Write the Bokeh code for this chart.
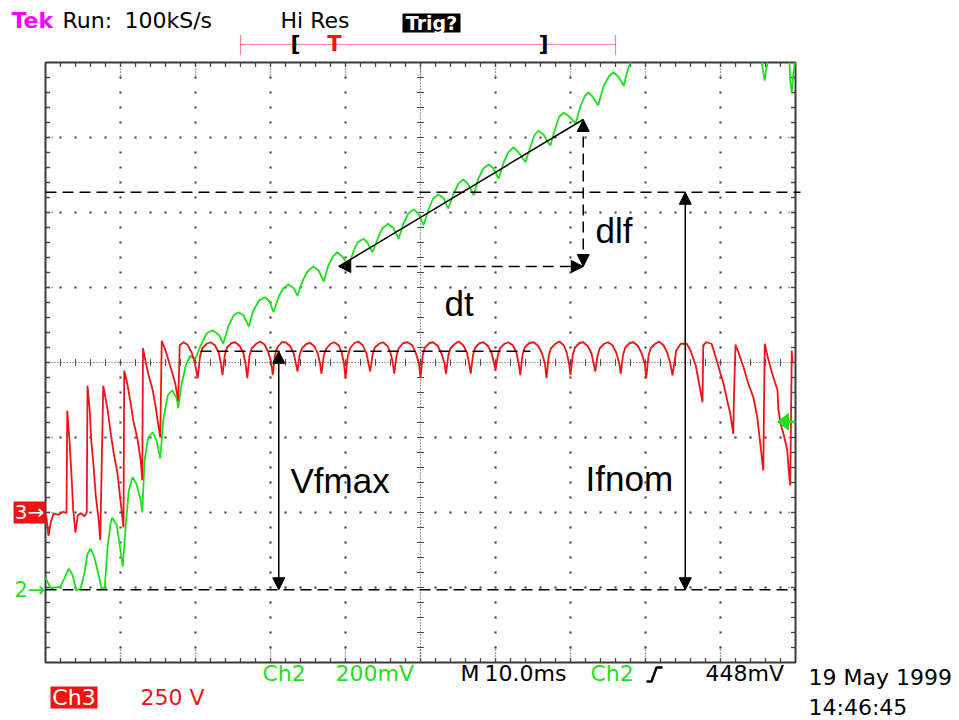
import numpy as np
from bokeh.plotting import figure
from bokeh.models import Range1d, Label, Arrow, NormalHead
from bokeh.embed import file_html
from bokeh.resources import INLINE

# ---------------- data (time in ms, amplitude in screen divisions, 0 = centre line) ----------------
# Ch2 (green): field current probe, 200 mV/div
ch2_t = [0.0, 0.3, 0.7, 1.3, 2.0, 2.5, 3.1, 3.6, 4.1, 4.7, 5.2, 5.6, 6.0, 6.5, 7.1, 7.5, 7.9, 8.3, 8.7, 8.9,
         9.5, 10.0, 10.3, 10.7, 11.1, 11.6, 12.1, 12.7, 12.9, 13.2, 13.7, 14.3, 14.8, 15.3, 15.7, 16.3, 16.9,
         17.5, 17.7, 18.1, 18.7, 19.3, 20.0, 20.7, 21.5, 22.3, 23.1, 23.7, 24.4, 25.1, 25.7, 26.4, 27.1, 27.7,
         28.5, 29.3, 29.9, 30.4, 31.1, 31.7, 32.4, 33.1, 33.6, 34.3, 34.9, 35.7, 36.4, 37.1, 37.7, 38.3, 38.9,
         39.6, 40.4, 41.1, 41.6, 42.4, 42.9, 43.6, 44.3, 44.9, 45.7, 46.4, 47.1, 47.7, 48.4, 49.1, 49.7, 50.4,
         51.1, 51.7, 52.4, 53.1, 53.7, 54.4, 55.1, 55.7, 56.4, 57.1, 57.7, 58.4, 59.1, 59.7, 60.4, 61.1, 61.7,
         62.4, 63.1, 64.0, 64.7, 65.2, 65.7, 66.4, 67.3, 68.0, 68.5, 69.1, 69.7, 70.7, 71.3, 71.9, 72.4, 72.9,
         73.7, 74.4, 75.1, 75.7, 76.4, 77.1, 77.6, 78.0,
         np.nan, 95.5, 95.7, 95.9, 96.1, 96.3,
         np.nan, 99.2, 99.3, 99.5, 99.7, 99.9]
ch2_y = [-2.87, -2.93, -3.01, -3.00, -2.99, -2.88, -2.75, -2.83, -3.04, -3.01, -2.80, -2.55, -2.48, -2.59,
         -2.84, -3.03, -2.99, -2.44, -2.13, -2.07, -2.17, -2.51, -2.72, -2.17, -1.71, -1.53, -1.61, -1.84,
         -2.00, -1.31, -1.00, -0.93, -1.04, -1.28, -0.77, -0.44, -0.37, -0.48, -0.61, -0.31, -0.04, 0.09,
         0.05, 0.23, 0.39, 0.43, 0.37, 0.25, 0.49, 0.63, 0.67, 0.63, 0.48, 0.69, 0.83, 0.87, 0.81, 0.67,
         0.88, 0.99, 1.04, 0.99, 0.89, 1.09, 1.21, 1.28, 1.23, 1.08, 1.29, 1.41, 1.47, 1.41, 1.29, 1.49,
         1.60, 1.65, 1.60, 1.47, 1.65, 1.79, 1.85, 1.79, 1.65, 1.85, 1.99, 2.04, 1.99, 1.83, 2.05, 2.19,
         2.24, 2.19, 2.05, 2.25, 2.39, 2.44, 2.37, 2.23, 2.45, 2.59, 2.64, 2.59, 2.45, 2.67, 2.80, 2.87,
         2.80, 2.67, 2.89, 3.03, 3.09, 3.04, 2.89, 3.13, 3.28, 3.33, 3.29, 3.19, 3.41, 3.55, 3.60, 3.55,
         3.43, 3.68, 3.81, 3.87, 3.81, 3.69, 3.89, 4.00,
         np.nan, 4.00, 3.87, 3.76, 3.92, 4.00,
         np.nan, 4.00, 3.76, 3.60, 3.83, 4.00]

# Ch3 (red): field voltage, 250 V/div
ch3_t = [0.1, 0.4, 0.7, 1.1, 1.7, 2.4, 2.8, 2.9, 3.2, 3.5, 3.7, 4.0, 4.3, 4.7, 5.2, 5.5, 5.6, 5.9, 6.1, 6.4,
         6.7, 7.1, 7.3, 7.7, 8.3, 8.7, 9.1, 9.6, 10.0, 10.4, 10.5, 10.9, 11.3, 11.7, 12.3, 12.7, 12.9, 13.0,
         13.3, 13.7, 14.3, 14.7, 15.1, 15.3, 15.5, 16.0, 16.7, 17.3, 17.7, 17.9, 18.4, 18.9, 19.5, 19.9,
         20.3, 20.6, 20.9, 21.5, 22.0, 22.6, 23.1, 23.4,
         23.6, 23.9, 24.2, 24.8, 25.3, 25.9, 26.4, 26.7,
         26.9, 27.2, 27.5, 28.1, 28.6, 29.2, 29.7, 30.1,
         30.3, 30.6, 30.9, 31.5, 32.0, 32.6, 33.1, 33.4,
         33.6, 33.9, 34.2, 34.8, 35.3, 35.9, 36.3, 36.6,
         36.8, 37.1, 37.4, 38.0, 38.5, 39.1, 39.5, 39.8,
         40.0, 40.3, 40.6, 41.2, 41.7, 42.3, 42.8, 43.1,
         43.3, 43.6, 43.9, 44.5, 45.0, 45.6, 46.0, 46.3,
         46.5, 46.8, 47.1, 47.7, 48.3, 48.9, 49.4, 49.8,
         50.0, 50.3, 50.6, 51.2, 51.7, 52.3, 52.8, 53.2,
         53.4, 53.7, 54.0, 54.6, 55.1, 55.7, 56.2, 56.5,
         56.7, 57.0, 57.3, 57.9, 58.4, 59.0, 59.5, 59.8,
         60.0, 60.3, 60.6, 61.2, 61.7, 62.3, 62.8, 63.1,
         63.3, 63.6, 63.9, 64.5, 65.1, 65.7, 66.2, 66.6,
         66.8, 67.1, 67.4, 68.0, 68.5, 69.1, 69.5, 69.8,
         70.0, 70.3, 70.6, 71.2, 71.7, 72.3, 72.8, 73.1,
         73.3, 73.6, 73.9, 74.5, 75.0, 75.6, 76.1, 76.5,
         76.7, 77.0, 77.3, 77.9, 78.4, 79.0, 79.5, 79.9,
         80.1, 80.4, 80.7, 81.3, 81.8, 82.4, 82.9, 83.3,
         83.6, 84.1, 84.7, 85.5, 86.0, 86.7, 87.2, 87.6, 87.7, 88.1, 88.8, 89.1, 90.0, 90.4, 90.9, 91.3,
         91.7, 91.8, 92.0, 92.4, 93.1, 93.7, 94.4, 94.9, 95.3, 95.7, 95.9, 96.3, 96.9, 97.6, 97.7, 98.0,
         98.4, 98.9, 99.1, 99.3, 99.5, 99.6]
ch3_y = [-2.04, -2.31, -2.13, -2.01, -2.03, -1.99, -2.01, -0.64, -1.04, -1.57, -1.97, -2.27, -2.04, -2.01,
         -2.05, -2.00, -0.31, -0.64, -1.04, -1.37, -1.77, -2.11, -2.37, -0.31, -0.64, -0.95, -1.21, -1.48,
         -1.84, -2.20, -0.11, -0.28, -0.51, -0.77, -1.04, -1.31, -1.57, 0.19, 0.03, -0.15, -0.37, -0.60,
         -0.87, -1.00, 0.29, 0.16, -0.07, -0.28, -0.51, 0.23, 0.27, 0.24, 0.13, 0.00,
         -0.21, 0.08, 0.19, 0.25, 0.27, 0.23, 0.13, -0.02,
         -0.17, 0.10, 0.20, 0.26, 0.27, 0.22, 0.12, -0.03,
         -0.21, 0.09, 0.19, 0.25, 0.28, 0.24, 0.14, 0.00,
         -0.17, 0.10, 0.20, 0.27, 0.27, 0.22, 0.12, -0.02,
         -0.12, 0.11, 0.19, 0.25, 0.26, 0.21, 0.12, -0.01,
         -0.15, 0.09, 0.18, 0.25, 0.27, 0.23, 0.13, -0.02,
         -0.21, 0.08, 0.19, 0.26, 0.28, 0.23, 0.12, -0.03,
         -0.12, 0.10, 0.20, 0.25, 0.27, 0.22, 0.13, 0.00,
         -0.15, 0.09, 0.19, 0.26, 0.27, 0.23, 0.12, -0.02,
         -0.21, 0.10, 0.20, 0.26, 0.27, 0.22, 0.12, -0.01,
         -0.15, 0.09, 0.19, 0.25, 0.28, 0.23, 0.13, -0.02,
         -0.15, 0.10, 0.20, 0.26, 0.27, 0.22, 0.12, -0.01,
         -0.11, 0.09, 0.19, 0.25, 0.27, 0.23, 0.13, -0.02,
         -0.17, 0.10, 0.20, 0.26, 0.27, 0.22, 0.12, -0.02,
         -0.21, 0.09, 0.19, 0.25, 0.28, 0.23, 0.13, -0.01,
         -0.17, 0.10, 0.20, 0.26, 0.27, 0.22, 0.12, -0.02,
         -0.12, 0.09, 0.19, 0.25, 0.27, 0.23, 0.13, -0.01,
         -0.15, 0.10, 0.20, 0.26, 0.27, 0.22, 0.12, -0.02,
         -0.21, 0.09, 0.19, 0.25, 0.28, 0.23, 0.13, -0.01,
         -0.17, 0.16, 0.25, 0.25, 0.16, -0.04, -0.31, -0.53, 0.23, 0.27, 0.25, 0.16, -0.15, -0.28, -0.51,
         -0.68, -0.95, -0.44, 0.24, 0.13, -0.07, -0.28, -0.47, -0.73, -1.08, -1.44, 0.25, 0.07, -0.15, -0.37,
         -0.61, -0.81, -0.95, -1.17, -1.44, -1.64, 0.16, 0.00]

# channel settings / reference levels (divisions)
ch2_ground = -3.03
ch3_ground = -2.0
ch2_mV_per_div = 200
trig_level_mV = 448
vfmax_level = 0.15
ifnom_level = 2.27
vfmax_t = 31.1
ifnom_t = 85.3
slope_t = [39.1, 71.7]
slope_y = [1.28, 3.24]

# ---------------- layout ----------------
PX_PER_MS = 7.5
PX_PER_DIV = 75.0
X0, YC = 45, 362          # page pixel of t=0 and of y=0
W, H = 959, 720
OX, OY = 0, 0             # page pixel of the canvas' top-left corner


def tx(X):
    return (X - X0) / PX_PER_MS


def ty(Y):
    return (YC - Y) / PX_PER_DIV


GREEN = "#1fe01f"
RED = "#f01414"
GRID = "#4a4a4a"
FONT = "DejaVu Sans"

p = figure(width=W, height=H, x_range=Range1d(tx(OX), tx(OX + W)), y_range=Range1d(ty(OY + H), ty(OY)),
           output_backend="svg", toolbar_location=None, min_border=0,
           x_axis_location=None, y_axis_location=None, outline_line_color=None,
           background_fill_color="white", border_fill_color="white")
p.grid.visible = False

# graticule dots on major lines
gx, gy = [], []
for k in range(1, 10):
    if k == 5:
        continue
    for j in range(1, 40):
        gx.append(10 * k)
        gy.append(-4 + 0.2 * j)
for j in (-3, -2, -1, 1, 2, 3):
    for k in range(1, 50):
        if k % 5 == 0:
            continue
        gx.append(2 * k)
        gy.append(j)
p.scatter(gx, gy, marker="square", size=2.2, fill_color=GRID, line_color=None)

# centre cross: dense dotted lines with minor ticks
p.line([0, 100], [0, 0], line_color=GRID, line_width=1.2, line_dash="1 2")
p.line([50, 50], [-4, 4], line_color=GRID, line_width=1.2, line_dash="1 2")
cx = [2 * k for k in range(1, 50)]
p.segment(x0=cx, y0=[-0.045] * len(cx), x1=cx, y1=[0.045] * len(cx), line_color=GRID, line_width=1)
cy = [-4 + 0.2 * j for j in range(1, 40)]
p.segment(x0=[49.55] * len(cy), y0=cy, x1=[50.45] * len(cy), y1=cy, line_color=GRID, line_width=1)

# border ticks
bt = [2 * k for k in range(1, 50)]
p.segment(x0=bt, y0=[4] * len(bt), x1=bt, y1=[3.94] * len(bt), line_color=GRID, line_width=1.3)
p.segment(x0=bt, y0=[-4] * len(bt), x1=bt, y1=[-3.94] * len(bt), line_color=GRID, line_width=1.3)
bl = [-4 + 0.2 * j for j in range(1, 40)]
p.segment(x0=[0] * len(bl), y0=bl, x1=[0.6] * len(bl), y1=bl, line_color=GRID, line_width=1.3)
p.segment(x0=[100] * len(bl), y0=bl, x1=[99.4] * len(bl), y1=bl, line_color=GRID, line_width=1.3)
mj = [10 * k for k in range(1, 10)]
p.segment(x0=mj, y0=[4] * 9, x1=mj, y1=[3.78] * 9, line_color=GRID, line_width=1.3, line_dash="1 2")
p.segment(x0=mj, y0=[-4] * 9, x1=mj, y1=[-3.78] * 9, line_color=GRID, line_width=1.3, line_dash="1 2")
mr = [-3, -2, -1, 1, 2, 3]
p.segment(x0=[0] * 6, y0=mr, x1=[1.0] * 6, y1=mr, line_color=GRID, line_width=1.3, line_dash="1 2")
p.segment(x0=[100] * 6, y0=mr, x1=[99.0] * 6, y1=mr, line_color=GRID, line_width=1.3, line_dash="1 2")

# border
p.quad(left=0, right=100, bottom=-4, top=4, fill_color=None, line_color="#3a3a3a", line_width=2)

# traces
p.line(np.array(ch2_t, dtype=float), np.array(ch2_y, dtype=float), line_color=GREEN, line_width=1.8)
p.line(ch3_t, ch3_y, line_color=RED, line_width=1.8)

# trigger level marker (Ch2)
trig_y = ch2_ground + trig_level_mV / ch2_mV_per_div
p.patch([tx(777), tx(788), tx(788)], [trig_y, trig_y + 0.11, trig_y - 0.11], fill_color=GREEN, line_color=GREEN)
p.line([tx(786), 100], [trig_y, trig_y], line_color=GREEN, line_width=2.5)

# ---------------- measurement annotations ----------------
DASH = "11 6"
p.line([0, tx(800)], [ifnom_level, ifnom_level], line_color="black", line_width=1.4, line_dash=DASH)
p.line([0, 100], [ch2_ground, ch2_ground], line_color="black", line_width=1.4, line_dash=DASH)
p.line([tx(200), tx(530)], [vfmax_level, vfmax_level], line_color="black", line_width=1.4, line_dash=DASH)
p.line(slope_t, slope_y, line_color="black", line_width=1.5)


def head():
    return NormalHead(size=12, fill_color="black", line_color="black", line_width=1)


p.add_layout(Arrow(start=head(), end=head(), x_start=vfmax_t, y_start=ch2_ground, x_end=vfmax_t,
                   y_end=vfmax_level, line_color="black", line_width=1.5))
p.add_layout(Arrow(start=head(), end=head(), x_start=ifnom_t, y_start=ch2_ground, x_end=ifnom_t,
                   y_end=ifnom_level, line_color="black", line_width=1.5))
p.add_layout(Arrow(start=head(), end=head(), x_start=slope_t[0], y_start=slope_y[0], x_end=slope_t[1],
                   y_end=slope_y[0], line_color="black", line_width=1.5, line_dash=DASH))
p.add_layout(Arrow(start=head(), end=head(), x_start=slope_t[1], y_start=slope_y[0], x_end=slope_t[1],
                   y_end=slope_y[1], line_color="black", line_width=1.5, line_dash=DASH))


def lab(X, Y, text, color="black", size="22px", font=FONT, style="normal", align="left", baseline="middle"):
    p.add_layout(Label(x=tx(X), y=ty(Y), text=text, text_color=color, text_font_size=size,
                       text_font=font, text_font_style=style, text_align=align, text_baseline=baseline))


ANN = "Liberation Sans"
lab(290, 480, "Vfmax", size="35px", font=ANN, baseline="alphabetic")
lab(585, 478, "Ifnom", size="35px", font=ANN, baseline="alphabetic")
lab(595, 230, "dlf", size="35px", font=ANN, baseline="alphabetic")
lab(444, 303, "dt", size="35px", font=ANN, baseline="alphabetic")

# ---------------- scope status texts ----------------
lab(11, 20, "Tek", color="#ff00ff", style="bold")
lab(62, 20, "Run:")
lab(124, 20, "100kS/s")
lab(280, 20, "Hi Res")
p.quad(left=tx(402), right=tx(460), top=ty(13), bottom=ty(32), fill_color="black", line_color=None)
lab(431, 22, "Trig?", color="white", style="bold", size="19px", align="center")

# record-position bar
p.line([tx(240), tx(615)], [ty(44), ty(44)], line_color=RED, line_width=1.2, line_dash="1 1")
p.segment(x0=[tx(240), tx(615)], y0=[ty(35), ty(35)], x1=[tx(240), tx(615)], y1=[ty(54), ty(54)],
          line_color=RED, line_width=1.2, line_dash="1 1")
lab(295, 43, "[", style="bold", size="22px", align="center")
lab(543, 43, "]", style="bold", size="22px", align="center")
lab(334, 43, "T", color=RED, style="bold", size="21px", align="center")
p.scatter([tx(296), tx(546)], [ty(44), ty(44)], marker="square", size=2, fill_color="#00cccc", line_color=None)

# channel ground markers
p.quad(left=tx(13), right=tx(45), top=ch3_ground + 0.147, bottom=ch3_ground - 0.147,
       fill_color=RED, line_color=None)
lab(29, 511, "3\u2192", color="white", size="20px", align="center")
lab(14, 589, "2\u2192", color=GREEN, size="21px")

# bottom status line
lab(262, 673, "Ch2", color=GREEN)
lab(335, 673, "200mV", color=GREEN)
lab(460, 673, "M")
lab(484, 673, "10.0ms")
lab(590, 673, "Ch2", color=GREEN)
p.line([tx(646), tx(651), tx(656), tx(662)], [ty(681), ty(681), ty(667), ty(667)],
       line_color="black", line_width=2.5)
lab(705, 673, "448mV")
p.quad(left=tx(50), right=tx(97), top=ty(686), bottom=ty(708), fill_color=RED, line_color=None)
lab(73.5, 697, "Ch3", color="white", align="center")
lab(140, 697, "250 V", color=RED)
lab(808, 677, "19 May 1999")
lab(808, 707, "14:46:45")

open("out.html", "w").write(file_html(p, INLINE))
